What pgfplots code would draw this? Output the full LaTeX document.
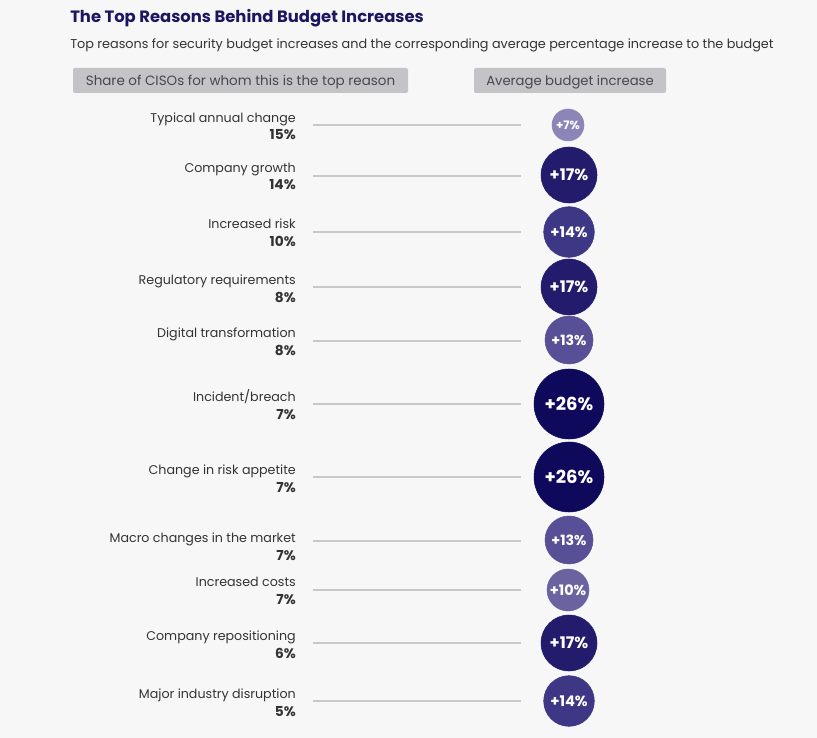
\documentclass[border=0pt]{standalone}
\usepackage{pgfplots}
\pgfplotsset{compat=1.18}
\usepackage{fontspec}
\setmainfont{Poppins}
\definecolor{bg}{HTML}{F7F7F7}
\definecolor{titlec}{HTML}{1B1660}
\definecolor{txt}{HTML}{333333}
\definecolor{hdrbox}{HTML}{C3C3C8}
\definecolor{hdrtxt}{HTML}{47474F}
\definecolor{linec}{HTML}{C8C8C8}
\definecolor{c7}{RGB}{140,133,183}
\definecolor{c10}{RGB}{106,99,160}
\definecolor{c13}{RGB}{88,80,150}
\definecolor{c14}{RGB}{62,55,133}
\definecolor{c17}{RGB}{35,27,108}
\definecolor{c26}{RGB}{14,9,90}
\newcommand{\rowlabel}[3]{%
  \node[anchor=base east, text=txt, font=\fontsize{9.5}{11}\selectfont, inner sep=0pt] at (axis cs:296,#1) {#2};
  \node[anchor=base east, text=txt, font=\fontsize{10.3}{11}\selectfont\bfseries, inner sep=0pt] at (axis cs:296,#1+17.5) {#3\%};
}
\pgfplotsset{bub/.style 2 args={only marks, mark=*, mark size=#1, color=#2,
  point meta=explicit, nodes near coords={\bfseries +\pgfmathprintnumber{\pgfplotspointmeta}\%},
  every node near coord/.append style={anchor=center, text=white, inner sep=0pt}}}
\begin{document}
\begin{tikzpicture}
\begin{axis}[
  scale only axis, width=612.75pt, height=553.5pt,
  xmin=0, xmax=817, ymin=0, ymax=738, y dir=reverse,
  hide axis, clip=false,
  /pgf/number format/assume math mode=true,
]
\fill[bg] (axis cs:0,0) rectangle (axis cs:817,738);
% title
\node[anchor=base west, text=titlec, font=\fontsize{12.3}{14}\selectfont\bfseries, inner sep=0pt] at (axis cs:70,23) {The Top Reasons Behind Budget Increases};
\node[anchor=base west, text=txt, font=\fontsize{9.6}{12}\selectfont, inner sep=0pt] at (axis cs:70,49) {Top reasons for security budget increases and the corresponding average percentage increase to the budget};
% header boxes
\fill[hdrbox, rounded corners=1.5pt] (axis cs:73,68) rectangle (axis cs:408,93);
\fill[hdrbox, rounded corners=1.5pt] (axis cs:474,68) rectangle (axis cs:666,93);
\node[anchor=base, text=hdrtxt, font=\fontsize{10.1}{12}\selectfont, inner sep=0pt] at (axis cs:240.5,86) {Share of CISOs for whom this is the top reason};
\node[anchor=base, text=hdrtxt, font=\fontsize{9.9}{12}\selectfont, inner sep=0pt] at (axis cs:570,86) {Average budget increase};
% connector lines
\addplot[linec, line width=1.1pt] coordinates {(313,125) (521,125)};
\addplot[linec, line width=1.1pt] coordinates {(313,176) (521,176)};
\addplot[linec, line width=1.1pt] coordinates {(313,232) (521,232)};
\addplot[linec, line width=1.1pt] coordinates {(313,287) (521,287)};
\addplot[linec, line width=1.1pt] coordinates {(313,341) (521,341)};
\addplot[linec, line width=1.1pt] coordinates {(313,404) (521,404)};
\addplot[linec, line width=1.1pt] coordinates {(313,477) (521,477)};
\addplot[linec, line width=1.1pt] coordinates {(313,541) (521,541)};
\addplot[linec, line width=1.1pt] coordinates {(313,590) (521,590)};
\addplot[linec, line width=1.1pt] coordinates {(313,643) (521,643)};
\addplot[linec, line width=1.1pt] coordinates {(313,701) (521,701)};
% bubbles (value in [ ])
\addplot[bub={12pt}{c7}, every node near coord/.append style={font=\fontsize{8.8}{9}\selectfont}] coordinates {(568,125) [7]};
\addplot[bub={21pt}{c17}, every node near coord/.append style={font=\fontsize{12}{12}\selectfont}] coordinates {(569,175) [17] (569,287) [17] (569,643) [17]};
\addplot[bub={19pt}{c14}, every node near coord/.append style={font=\fontsize{11}{11}\selectfont}] coordinates {(569,232) [14] (569,701) [14]};
\addplot[bub={18pt}{c13}, every node near coord/.append style={font=\fontsize{10.6}{10.6}\selectfont}] coordinates {(569,340) [13] (569,540) [13]};
\addplot[bub={26.25pt}{c26}, every node near coord/.append style={font=\fontsize{13.5}{13.5}\selectfont}] coordinates {(569,404) [26] (569,477) [26]};
\addplot[bub={15.75pt}{c10}, every node near coord/.append style={font=\fontsize{10.8}{10.8}\selectfont}] coordinates {(568,590) [10]};
% labels
\rowlabel{122.5}{Typical annual change}{15}
\rowlabel{172.5}{Company growth}{14}
\rowlabel{228.5}{Increased risk}{10}
\rowlabel{284.5}{Regulatory requirements}{8}
\rowlabel{337.5}{Digital transformation}{8}
\rowlabel{401.5}{Incident/breach}{7}
\rowlabel{474.5}{Change in risk appetite}{7}
\rowlabel{542.5}{Macro changes in the market}{7}
\rowlabel{586.5}{Increased costs}{7}
\rowlabel{640.5}{Company repositioning}{6}
\rowlabel{698.5}{Major industry disruption}{5}
\end{axis}
\end{tikzpicture}
\end{document}
